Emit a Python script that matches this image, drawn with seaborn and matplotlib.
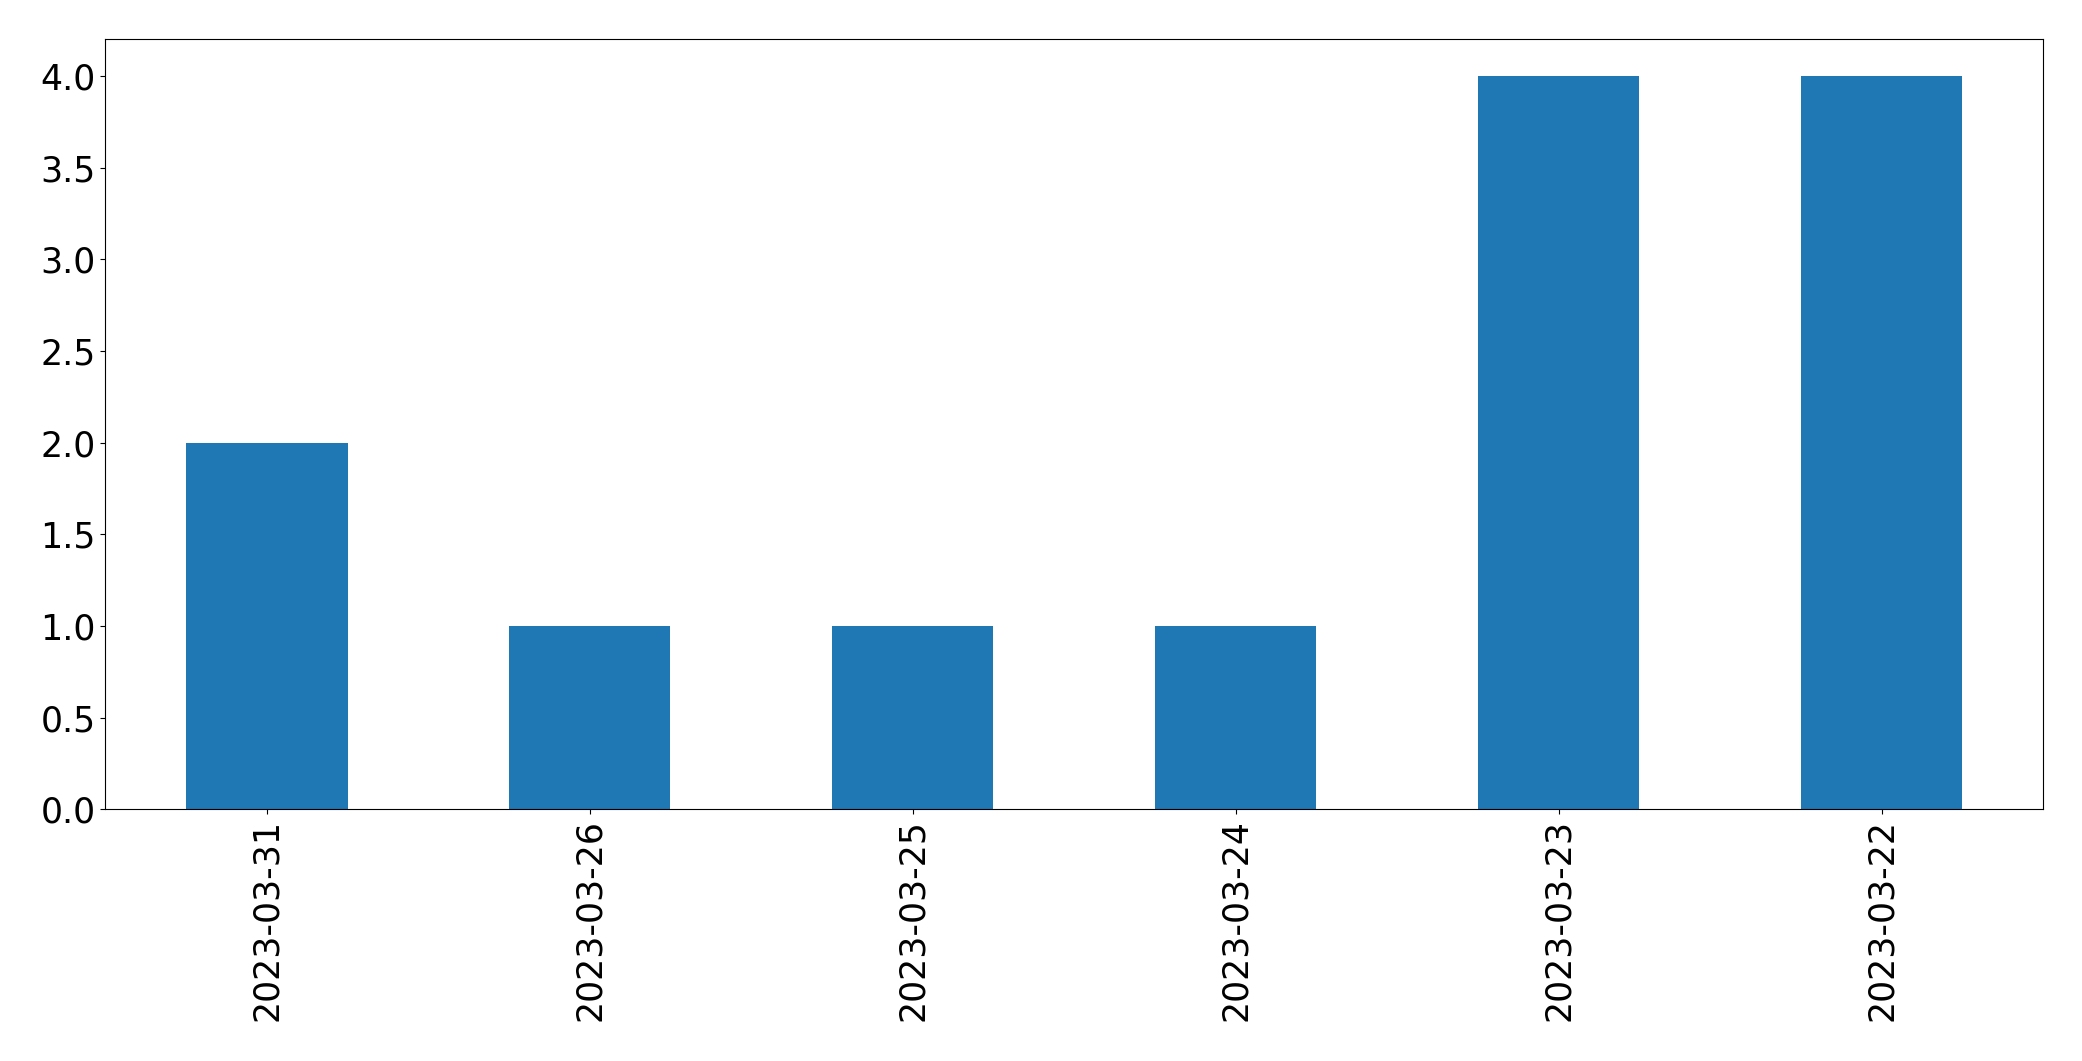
import matplotlib
matplotlib.use("Agg")
import matplotlib.pyplot as plt
import seaborn as sns
import pandas as pd

dates = ["2023-03-31", "2023-03-26", "2023-03-25", "2023-03-24", "2023-03-23", "2023-03-22"]
counts = [2, 1, 1, 1, 4, 4]

df = pd.DataFrame({"date": dates, "count": counts})

fig = plt.figure(figsize=(20.82, 10.61), dpi=100)
ax = fig.add_axes([105.3 / 2082, 1 - 809.3 / 1061, (2043 - 105.3) / 2082, (809.3 - 39.3) / 1061])

sns.barplot(data=df, x="date", y="count", order=dates, color="#1f77b4",
            saturation=1, width=0.5, ax=ax)

ax.set_xlim(-0.5, len(dates) - 0.5)
ax.set_ylim(0, 4.2)
ax.set_xlabel("")
ax.set_ylabel("")
ax.tick_params(axis="both", labelsize=25)
ax.tick_params(axis="x", labelrotation=90)

fig.savefig("out.png", dpi=100)
